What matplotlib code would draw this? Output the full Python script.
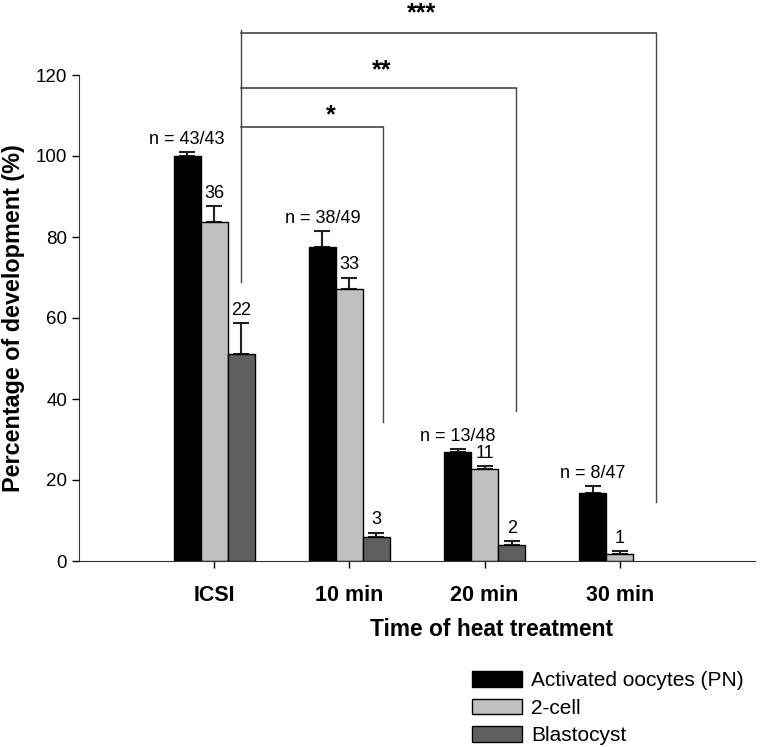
import numpy as np
import matplotlib; matplotlib.use("Agg")
import matplotlib.pyplot as plt

plt.rcParams["font.family"] = ["Liberation Sans", "DejaVu Sans"]

groups = ["ICSI", "10 min", "20 min", "30 min"]
pn = [100.0, 77.6, 26.9, 16.9]
pn_err = [1.0, 3.8, 0.7, 1.5]
two_cell = [83.8, 67.2, 22.8, 1.8]
two_cell_err = [3.8, 2.8, 0.6, 0.6]
blast = [51.1, 5.9, 3.9, 0.0]
blast_err = [7.7, 1.1, 1.1, 0.0]
n_labels = ["n = 43/43", "n = 38/49", "n = 13/48", "n = 8/47"]
two_cell_n = ["36", "33", "11", "1"]
blast_n = ["22", "3", "2", ""]

series = [("Activated oocytes (PN)", pn, pn_err, "#000000", n_labels),
          ("2-cell", two_cell, two_cell_err, "#c0c0c0", two_cell_n),
          ("Blastocyst", blast, blast_err, "#5f5f5f", blast_n)]

# significance brackets: (right x, bottom of right leg, bar y, star x, star y, label)
sig = [(1.25, 34.3, 107.2, 0.86, 108.4, "*"),
       (2.23, 37.0, 116.8, 1.24, 119.5, "**"),
       (3.27, 14.6, 130.4, 1.53, 133.6, "***")]

fig = plt.figure(figsize=(7.6, 7.47), dpi=100)
ax = fig.add_axes([79/760, 1-561/747, 676/760, 486/747])

x = np.arange(len(groups))
w = 0.2
for i, (name, vals, errs, col, labs) in enumerate(series):
    xs = x + (i - 1) * w
    vals = np.array(vals)
    ax.bar(xs, np.where(vals > 0, vals, np.nan), w, color=col, edgecolor="black",
           linewidth=1, label=name, zorder=2)
    for xi, v, e, lab in zip(xs, vals, errs, labs):
        if v <= 0:
            continue
        ax.errorbar(xi, v, yerr=[[0], [e]], fmt="none", ecolor="#222222",
                    elinewidth=1.5, capsize=6, capthick=1.5, zorder=1)
        ax.annotate(lab, (xi, v + e), xytext=(0, 3), textcoords="offset points",
                    ha="center", va="bottom", fontsize=13)

# brackets
lc = "#444444"
ax.plot([0.2, 0.2], [68.9, 131.0], color=lc, lw=1, clip_on=False)
for xr, yb, yt, sx, sy, s in sig:
    ax.plot([0.2, xr], [yt, yt], color=lc, lw=1.2, clip_on=False)
    ax.plot([xr, xr], [yb, yt], color=lc, lw=1, clip_on=False)
    ax.text(sx, sy, s, ha="center", va="baseline",
            fontsize=18, fontweight="bold", clip_on=False)

ax.set_xlim(-1.0, 4.0)
ax.set_ylim(0, 120)
ax.set_yticks(range(0, 121, 20))
ax.set_xticks(x)
ax.set_xticklabels(groups, fontweight="bold", fontsize=15.5)
ax.tick_params(axis="y", labelsize=13.5, length=5, width=1)
ax.tick_params(axis="x", length=5, width=1, pad=12)
for s in ["top", "right"]:
    ax.spines[s].set_visible(False)
ax.spines["left"].set_color("#333333")
ax.spines["bottom"].set_color("#333333")
ax.set_ylabel("Percentage of development (%)", fontsize=16.8, fontweight="bold", labelpad=8)
ax.text((492 - 79) / 676, -(630 - 561) / 486, "Time of heat treatment", transform=ax.transAxes,
        ha="center", va="center", fontsize=16.4, fontweight="bold")

fig.legend(loc="upper left", bbox_to_anchor=(472/760, 1-671/747), frameon=False,
           fontsize=15, borderpad=0, borderaxespad=0, handlelength=2.4,
           handleheight=0.8, handletextpad=0.45, labelspacing=0.4)

fig.savefig("out.png", dpi=100)
